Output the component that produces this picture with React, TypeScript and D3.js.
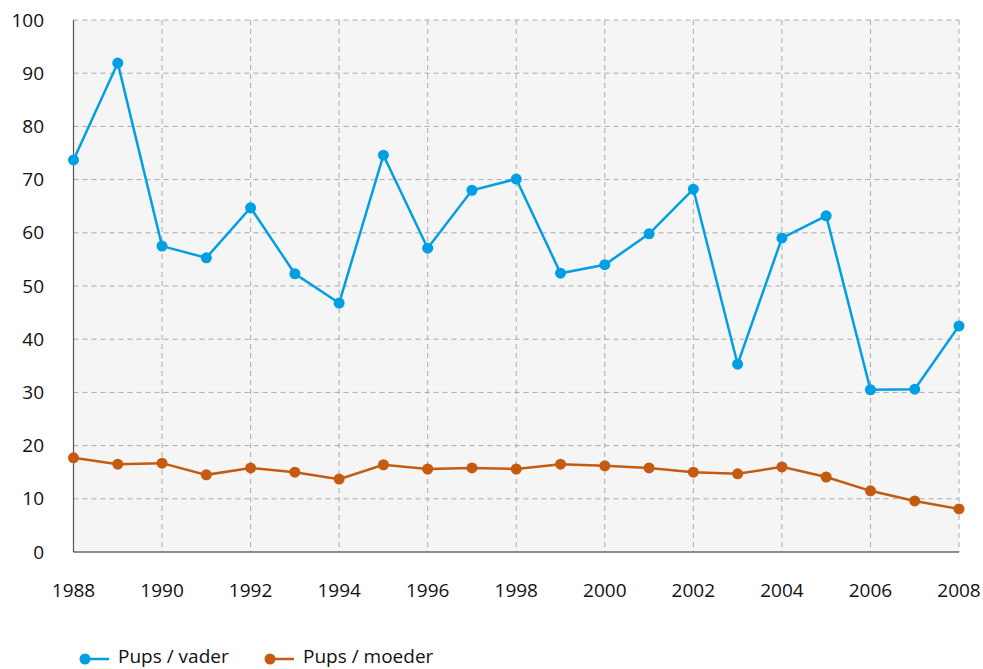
import React from "react";
import * as d3 from "d3";

const years = d3.range(1988, 2009);
const vader = [73.7, 91.9, 57.5, 55.3, 64.7, 52.3, 46.8, 74.6, 57.1, 68.0, 70.1, 52.4, 54.0, 59.8, 68.2, 35.3, 59.0, 63.2, 30.5, 30.6, 42.5];
const moeder = [17.7, 16.5, 16.7, 14.5, 15.8, 15.0, 13.7, 16.4, 15.6, 15.8, 15.6, 16.5, 16.2, 15.8, 15.0, 14.7, 16.0, 14.1, 11.5, 9.6, 8.1];
const yTicks = [0, 10, 20, 30, 40, 50, 60, 70, 80, 90, 100];
const xTicks = [1988, 1990, 1992, 1994, 1996, 1998, 2000, 2002, 2004, 2006, 2008];
const seriesNames = ["Pups / vader", "Pups / moeder"];
const colors = ["#009FE3", "#C55A11"];

export default function App() {
  const W = 983, H = 669;
  const left = 73.5, right = 959, top = 20, bottom = 552;
  const x = d3.scaleLinear().domain([1988, 2008]).range([left, right]);
  const y = d3.scaleLinear().domain([0, 100]).range([bottom, top]);
  const line = d3.line<number>().x((_, i) => x(years[i])).y((d) => y(d));
  const font = "'Open Sans', 'Noto Sans', sans-serif";
  const series = [vader, moeder];
  return (
    <svg width={W} height={H} style={{ position: "absolute", left: 0, top: 0 }} fontFamily={font}>
      <rect x={left} y={top} width={right - left} height={bottom - top} fill="#f5f5f5" />
      {yTicks.filter((t) => t > 0).map((t) => (
        <line key={"h" + t} x1={left} x2={right} y1={y(t)} y2={y(t)} stroke="#aaaaaa" strokeDasharray="5,4" strokeWidth={1} />
      ))}
      {xTicks.filter((t) => t > 1988).map((t) => (
        <line key={"v" + t} x1={x(t)} x2={x(t)} y1={top} y2={bottom} stroke="#aaaaaa" strokeDasharray="5,4" strokeWidth={1} />
      ))}
      <line x1={left} x2={left} y1={top} y2={bottom} stroke="#555" strokeWidth={1.2} />
      <line x1={left} x2={right} y1={bottom} y2={bottom} stroke="#222" strokeWidth={1.2} />
      {yTicks.map((t) => (
        <text key={"yt" + t} x={44} y={y(t)} dy="0.35em" textAnchor="end" fontSize={19} fill="#111">{t}</text>
      ))}
      {xTicks.map((t) => (
        <text key={"xt" + t} x={x(t)} y={590} dy="0.35em" textAnchor="middle" fontSize={19} fill="#111">{t}</text>
      ))}
      {series.map((s, k) => (
        <g key={"s" + k}>
          <path d={line(s) || ""} fill="none" stroke={colors[k]} strokeWidth={2.5} />
          {s.map((v, i) => (
            <circle key={i} cx={x(years[i])} cy={y(v)} r={5.5} fill={colors[k]} />
          ))}
        </g>
      ))}
      {seriesNames.map((n, k) => {
        const lx = k === 0 ? 85 : 270;
        return (
          <g key={"lg" + k}>
            <line x1={lx} x2={lx + 24} y1={659} y2={659} stroke={colors[k]} strokeWidth={2.5} />
            <circle cx={lx} cy={659} r={5.5} fill={colors[k]} />
            <text x={lx + 33} y={663} fontSize={19} fill="#111">{n}</text>
          </g>
        );
      })}
    </svg>
  );
}
